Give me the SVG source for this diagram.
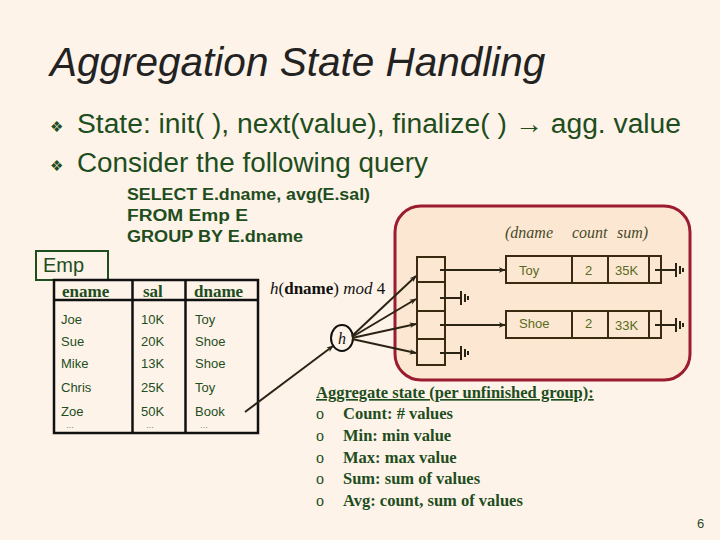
<svg xmlns="http://www.w3.org/2000/svg" width="720" height="540" viewBox="0 0 720 540">
<defs>
<marker id="ah" viewBox="0 0 10 10" refX="9" refY="5" markerWidth="7" markerHeight="7" orient="auto" markerUnits="userSpaceOnUse"><path d="M0,1 L10,5 L0,9 L3,5 z" fill="#2b2414"/></marker>
<g id="gnd"><line x1="0" y1="0" x2="21" y2="0"/><line x1="21" y1="-7" x2="21" y2="7"/><line x1="25" y1="-4" x2="25" y2="4"/><line x1="28" y1="-2" x2="28" y2="2"/></g>
</defs>
<style>
.sans{font-family:"Liberation Sans",Arial,sans-serif}
.serif{font-family:"Liberation Serif","Times New Roman",serif}
.grn{fill:#1e4d1e}
.cell{fill:none;stroke:#3a2a10;stroke-width:2}
.tbl{fill:none;stroke:#111;stroke-width:2.5}
.con{stroke:#2b2414;stroke-width:2;fill:none}
.rec{font-family:"Liberation Sans",Arial,sans-serif;font-size:13px;fill:#5a6a20}
.row{font-family:"Liberation Sans",Arial,sans-serif;font-size:13px;fill:#1e4d1e}
.dots{font-family:"Liberation Sans",Arial,sans-serif;font-size:8px;fill:#1e4d1e}
.li{font-family:"Liberation Serif","Times New Roman",serif;font-size:16.5px;font-weight:bold;fill:#1e4d1e}
.o{font-family:"Liberation Serif","Times New Roman",serif;font-size:16px;font-weight:normal;fill:#1e4d1e}
.bul{font-family:"DejaVu Sans",sans-serif;font-size:15px;fill:#1e4d1e}
.it{font-family:"Liberation Serif","Times New Roman",serif;font-style:italic;font-size:16px;fill:#4a4a2a}
</style>
<rect width="720" height="540" fill="#fdf3e8"/>
<g id="title"><text x="50" y="76" class="sans" font-style="italic" font-size="40.5" fill="#222">Aggregation State Handling</text></g>
<g id="bullets" class="sans grn">
<text x="50" y="132" class="bul">❖</text>
<text x="77" y="133" font-size="27" textLength="604" lengthAdjust="spacingAndGlyphs">State:  init( ), next(value), finalize( ) → agg. value</text>
<text x="50" y="171" class="bul">❖</text>
<text x="77" y="172" font-size="27" textLength="351" lengthAdjust="spacingAndGlyphs">Consider the following query</text>
</g>
<g id="sql" class="sans grn" font-size="16" font-weight="bold">
<text x="127" y="200" textLength="243" lengthAdjust="spacingAndGlyphs">SELECT  E.dname, avg(E.sal)</text>
<text x="127" y="221" textLength="121" lengthAdjust="spacingAndGlyphs">FROM   Emp E</text>
<text x="127" y="242" textLength="176" lengthAdjust="spacingAndGlyphs">GROUP BY  E.dname</text>
</g>
<g id="emp-label"><rect x="36" y="251" width="72" height="29" fill="none" stroke="#1e4d1e" stroke-width="2"/><text x="43" y="272" class="sans grn" font-size="20">Emp</text></g>
<g id="emp-table">
<rect x="54" y="280" width="204" height="153" class="tbl"/>
<line x1="54" y1="300" x2="258" y2="300" class="tbl"/>
<line x1="132.5" y1="280" x2="132.5" y2="433" class="tbl"/>
<line x1="185.5" y1="280" x2="185.5" y2="433" class="tbl"/>
<text x="62" y="297" class="serif grn" font-size="17" font-weight="bold">ename</text>
<text x="143" y="297" class="serif grn" font-size="17" font-weight="bold">sal</text>
<text x="194" y="297" class="serif grn" font-size="17" font-weight="bold">dname</text>
<text x="61" y="324" class="row">Joe</text><text x="141" y="324" class="row">10K</text><text x="195" y="324" class="row">Toy</text>
<text x="61" y="346" class="row">Sue</text><text x="141" y="346" class="row">20K</text><text x="195" y="346" class="row">Shoe</text>
<text x="61" y="368" class="row">Mike</text><text x="141" y="368" class="row">13K</text><text x="195" y="368" class="row">Shoe</text>
<text x="61" y="392" class="row">Chris</text><text x="141" y="392" class="row">25K</text><text x="195" y="392" class="row">Toy</text>
<text x="61" y="416" class="row">Zoe</text><text x="141" y="416" class="row">50K</text><text x="195" y="416" class="row">Book</text>
<text x="66" y="428" class="dots">…</text><text x="146" y="428" class="dots">…</text><text x="200" y="428" class="dots">…</text>
</g>
<g id="hash-label"><text x="270" y="294" class="serif" font-size="17" fill="#111"><tspan font-style="italic">h</tspan>(<tspan font-weight="bold">dname</tspan>) <tspan font-style="italic">mod</tspan> 4</text></g>
<g id="hash-table">
<rect x="395" y="206" width="295" height="174" rx="26" fill="#fce8d2" stroke="#9b1b30" stroke-width="3"/>
<text x="505" y="238" class="it">(dname</text>
<text x="572" y="238" class="it">count</text>
<text x="617" y="238" class="it">sum)</text>
<rect x="417" y="257" width="28" height="108" class="cell"/>
<line x1="417" y1="282" x2="445" y2="282" class="cell"/>
<line x1="417" y1="311" x2="445" y2="311" class="cell"/>
<line x1="417" y1="339" x2="445" y2="339" class="cell"/>
</g>
<g id="rec-toy">
<rect x="506" y="256" width="155" height="27" class="cell"/>
<line x1="572" y1="256" x2="572" y2="283" class="cell"/><line x1="608" y1="256" x2="608" y2="283" class="cell"/><line x1="649" y1="256" x2="649" y2="283" class="cell"/>
<text x="519" y="275" class="rec">Toy</text><text x="585" y="275" class="rec">2</text><text x="615" y="275" class="rec">35K</text>
</g>
<g id="rec-shoe">
<rect x="506" y="311" width="155" height="27" class="cell"/>
<line x1="572" y1="311" x2="572" y2="338" class="cell"/><line x1="608" y1="311" x2="608" y2="338" class="cell"/><line x1="649" y1="311" x2="649" y2="338" class="cell"/>
<text x="519" y="328" class="rec">Shoe</text><text x="585" y="328" class="rec">2</text><text x="615" y="330" class="rec">33K</text>
</g>
<g id="h-node"><ellipse cx="342" cy="338" rx="11" ry="13" fill="#fdf3e8" stroke="#111" stroke-width="2"/><text x="342" y="344" text-anchor="middle" class="serif" font-style="italic" font-size="16" fill="#111">h</text></g>
<g id="agg-state" class="li">
<text x="316" y="398" text-decoration="underline">Aggregate state (per unfinished group):</text>
<text x="316" y="419" class="o">o</text><text x="343" y="419">Count: # values</text>
<text x="316" y="441" class="o">o</text><text x="343" y="441">Min: min value</text>
<text x="316" y="463" class="o">o</text><text x="343" y="463">Max: max value</text>
<text x="316" y="484" class="o">o</text><text x="343" y="484">Sum: sum of values</text>
<text x="316" y="506" class="o">o</text><text x="343" y="506">Avg: count, sum of values</text>
</g>
<g id="page"><text x="697" y="528" class="sans" font-size="13" fill="#2a4a2a">6</text></g>
<g id="connectors" class="con">
<line x1="245" y1="412" x2="333" y2="346" marker-end="url(#ah)"/>
<line x1="352" y1="336" x2="416" y2="276" marker-end="url(#ah)"/>
<line x1="352" y1="337" x2="416" y2="299" marker-end="url(#ah)"/>
<line x1="352" y1="338" x2="416" y2="324" marker-end="url(#ah)"/>
<line x1="352" y1="339" x2="416" y2="353" marker-end="url(#ah)"/>
<line x1="440" y1="270" x2="505" y2="270" marker-end="url(#ah)"/>
<line x1="440" y1="325" x2="505" y2="325" marker-end="url(#ah)"/>
<use href="#gnd" x="440" y="298"/>
<use href="#gnd" x="440" y="353"/>
<use href="#gnd" x="655" y="270"/>
<use href="#gnd" x="655" y="325"/>
</g>
</svg>
